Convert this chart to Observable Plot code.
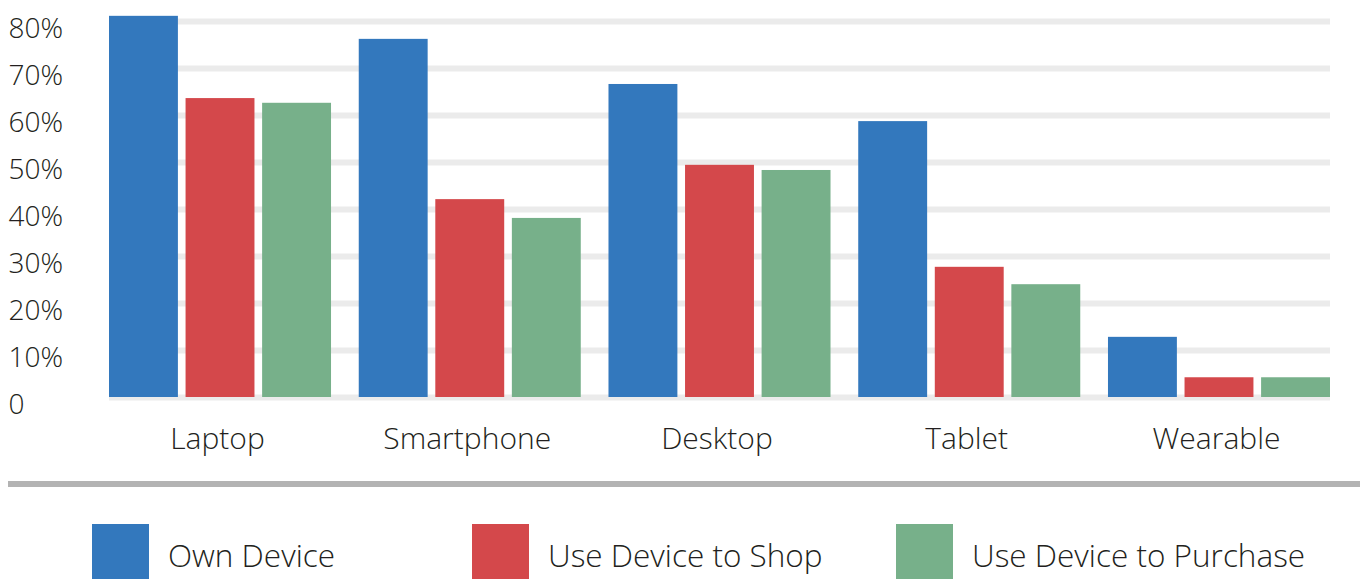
<!DOCTYPE html>
<html>
<head>
<meta charset="utf-8">
<script src="https://cdn.jsdelivr.net/npm/d3@7"></script>
<script src="https://cdn.jsdelivr.net/npm/@observablehq/plot@0.6"></script>
<style>
  html, body { margin: 0; padding: 0; background: #fff; }
  body { width: 1360px; height: 579px; position: relative; overflow: hidden; font-family: "Open Sans", sans-serif; color: #231f20; }
  .layer { position: absolute; left: 0; top: 0; }
  #sep { position: absolute; left: 8px; right: 0; top: 481px; height: 6px; background: #b3b3b3; }
  .item { position: absolute; top: 524px; height: 60px; }
  .sw { position: absolute; left: 0; top: 0; width: 57px; height: 60px; }
  .lbl { position: absolute; left: 76px; top: 11px; font-size: 31.5px; font-weight: 300; white-space: nowrap; line-height: 40px; }
</style>
</head>
<body>
<div id="grid" class="layer"></div>
<div id="chart" class="layer"></div>
<div id="sep"></div>
<div id="legend"></div>
<script>
const categories = ["Laptop", "Smartphone", "Desktop", "Tablet", "Wearable"];
const series = ["Own Device", "Use Device to Shop", "Use Device to Purchase"];
const ownDevice = [81.1, 76.2, 66.6, 58.7, 12.8];
const useDeviceToShop = [63.6, 42.1, 49.4, 27.7, 4.2];
const useDeviceToPurchase = [62.6, 38.1, 48.3, 24.0, 4.2];
const yTicks = [0, 10, 20, 30, 40, 50, 60, 70, 80];
const yTickLabels = ["0", "10%", "20%", "30%", "40%", "50%", "60%", "70%", "80%"];
const colors = ["#3378bd", "#d4484b", "#77b08a"];

const seriesValues = [ownDevice, useDeviceToShop, useDeviceToPurchase];
const rows = [];
categories.forEach((c, i) => {
  series.forEach((s, j) => rows.push({category: c, series: s, value: seriesValues[j][i]}));
});
const tickRows = yTicks.map((t, i) => ({t, label: yTickLabels[i]}));

const frame = {
  width: 1360,
  height: 470,
  marginTop: 21,
  marginBottom: 73,
  marginLeft: 109,
  marginRight: 30,
  style: {fontFamily: "Open Sans, sans-serif", fontWeight: 300, color: "#231f20", background: "transparent"}
};

// background layer: gridlines and y tick labels (shares the same y scale)
const grid = Plot.plot({
  ...frame,
  y: {domain: [0, 80], axis: null},
  marks: [
    Plot.ruleY(yTicks, {y: d => d, stroke: "#ebebeb", strokeWidth: 6}),
    Plot.text(tickRows, {y: "t", text: "label", frameAnchor: "left", textAnchor: "start", dx: -101, dy: 8, fontSize: 28, fill: "#231f20"})
  ]
});
document.getElementById("grid").appendChild(grid);

// foreground layer: grouped bars
const plot = Plot.plot({
  ...frame,
  fx: {domain: categories, paddingInner: 0.111, paddingOuter: 0, round: false},
  x: {domain: series, paddingInner: 0.1, paddingOuter: 0, axis: null, round: false},
  y: {domain: [0, 80], axis: null},
  color: {domain: series, range: colors},
  marks: [
    Plot.barY(rows, {fx: "category", x: "series", y: "value", fill: "series"}),
    Plot.axisFx({anchor: "bottom", tickSize: 0, tickPadding: 30, fontSize: 30, label: null, fill: "#231f20", dx: -3})
  ]
});
document.getElementById("chart").appendChild(plot);

const legendLeft = [92, 472, 896];
const legend = document.getElementById("legend");
series.forEach((s, i) => {
  const item = document.createElement("div");
  item.className = "item";
  item.style.left = legendLeft[i] + "px";
  const sw = document.createElement("div");
  sw.className = "sw";
  sw.style.background = colors[i];
  const lbl = document.createElement("div");
  lbl.className = "lbl";
  lbl.textContent = s;
  item.appendChild(sw);
  item.appendChild(lbl);
  legend.appendChild(item);
});
</script>
</body>
</html>
